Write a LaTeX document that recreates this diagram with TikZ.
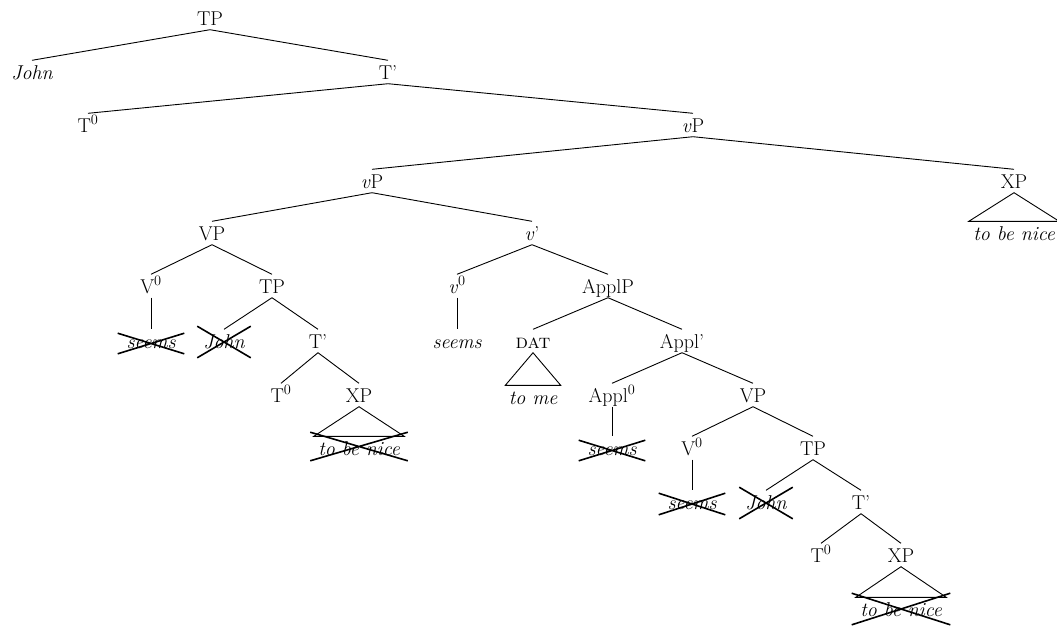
\documentclass[tikz,border=0pt]{standalone}
\usetikzlibrary{shapes.misc}
\begin{document}
\begin{tikzpicture}[x=1pt,y=-1pt,
  lab/.style={font=\fontsize{20}{24}\selectfont, inner xsep=1pt, inner ysep=4.5pt, text height=14pt, text depth=0pt},
  leaf/.style={lab, font=\fontsize{20}{24}\selectfont\itshape},
  gone/.style={draw, cross out, line width=1.6pt, inner sep=0pt},
  edge/.style={line width=0.9pt},
  tri/.style={line width=0.9pt, line join=miter}]
\useasboundingbox (0,0) rectangle (1057,625);
% row 0-3
\node[lab] (TPa) at (210,18) {TP};
\node[leaf] (Johna) at (32,72) {John};
\node[lab] (Tba) at (388,72) {T'};
\node[lab] (T0a) at (88,125) {T$^0$};
\node[lab] (vPa) at (693,125) {\textit{v}P};
\node[lab] (vPb) at (372,181) {\textit{v}P};
\node[lab] (XPa) at (1014,181) {XP};
\node[leaf, minimum width=90pt] (nicea) at (1014,233) {to be nice};
% row 4-
\node[lab] (VPa) at (212,233) {VP};
\node[lab] (vb) at (532,233) {\textit{v}'};
\node[lab] (V0a) at (151,286) {V$^0$};
\node[lab] (TPb) at (272,286) {TP};
\node[lab] (v0) at (457,286) {\textit{v}$^0$};
\node[lab] (ApplP) at (608,286) {ApplP};
\node[leaf] (seemsa) at (151,341) {seems};
\node[leaf] (Johnb) at (224,341) {John};
\node[lab] (Tbb) at (318,341) {T'};
\node[leaf] (seemsb) at (457,341) {seems};
\node[lab] (DAT) at (533,341) {\textsc{dat}};
\node[lab] (Applb) at (682,341) {Appl'};
\node[lab] (T0b) at (281,395) {T$^0$};
\node[lab] (XPb) at (359,395) {XP};
\node[leaf, minimum width=55pt] (tome) at (533,397) {to me};
\node[lab] (Appl0) at (612,395) {Appl$^0$};
\node[lab] (VPb) at (753,395) {VP};
\node[leaf, minimum width=90pt] (niceb) at (359,448) {to be nice};
\node[leaf] (seemsc) at (612,448) {seems};
\node[lab] (V0b) at (692,448) {V$^0$};
\node[lab] (TPc) at (813,448) {TP};
\node[leaf] (seemsd) at (692,502) {seems};
\node[leaf] (Johnc) at (766,502) {John};
\node[lab] (Tbc) at (861,502) {T'};
\node[lab] (T0c) at (821,555) {T$^0$};
\node[lab] (XPc) at (901,555) {XP};
\node[leaf, minimum width=90pt] (nicec) at (901,609) {to be nice};
% crosses
\node[gone, minimum width=65pt, minimum height=19pt, yshift=-2.5pt] (xa) at (seemsa) {};
\node[gone, minimum width=52pt, minimum height=30pt, yshift=-1pt] (xb) at (Johnb) {};
\node[gone, minimum width=96pt, minimum height=27pt, yshift=1.5pt] (xc) at (niceb) {};
\node[gone, minimum width=65pt, minimum height=19pt, yshift=-2.5pt] (xd) at (seemsc) {};
\node[gone, minimum width=65pt, minimum height=20pt, yshift=-2pt] (xe) at (seemsd) {};
\node[gone, minimum width=52pt, minimum height=30pt, yshift=-1pt] (xf) at (Johnc) {};
\node[gone, minimum width=97pt, minimum height=30pt] (xg) at (nicec) {};
% edges
\draw[edge] (TPa.south) -- (Johna.north);
\draw[edge] (TPa.south) -- (Tba.north);
\draw[edge] (Tba.south) -- (T0a.north);
\draw[edge] (Tba.south) -- (vPa.north);
\draw[edge] (vPa.south) -- (vPb.north);
\draw[edge] (vPa.south) -- (XPa.north);
\draw[edge] (vPb.south) -- (VPa.north);
\draw[edge] (vPb.south) -- (vb.north);
\draw[edge] (VPa.south) -- (V0a.north);
\draw[edge] (VPa.south) -- (TPb.north);
\draw[edge] (V0a.south) -- (seemsa.north);
\draw[edge] (TPb.south) -- (Johnb.north);
\draw[edge] (TPb.south) -- (Tbb.north);
\draw[edge] (Tbb.south) -- (T0b.north);
\draw[edge] (Tbb.south) -- (XPb.north);
\draw[edge] (vb.south) -- (v0.north);
\draw[edge] (vb.south) -- (ApplP.north);
\draw[edge] (v0.south) -- (seemsb.north);
\draw[edge] (ApplP.south) -- (DAT.north);
\draw[edge] (ApplP.south) -- (Applb.north);
\draw[edge] (Applb.south) -- (Appl0.north);
\draw[edge] (Applb.south) -- (VPb.north);
\draw[edge] (Appl0.south) -- (seemsc.north);
\draw[edge] (VPb.south) -- (V0b.north);
\draw[edge] (VPb.south) -- (TPc.north);
\draw[edge] (V0b.south) -- (seemsd.north);
\draw[edge] (TPc.south) -- (Johnc.north);
\draw[edge] (TPc.south) -- (Tbc.north);
\draw[edge] (Tbc.south) -- (T0c.north);
\draw[edge] (Tbc.south) -- (XPc.north);
% triangles
\draw[tri] (XPa.south) -- (nicea.north west) -- (nicea.north east) -- cycle;
\draw[tri] (XPb.south) -- (niceb.north west) -- (niceb.north east) -- cycle;
\draw[tri] (DAT.south) -- (tome.north west) -- (tome.north east) -- cycle;
\draw[tri] (XPc.south) -- (nicec.north west) -- (nicec.north east) -- cycle;
\end{tikzpicture}
\end{document}
